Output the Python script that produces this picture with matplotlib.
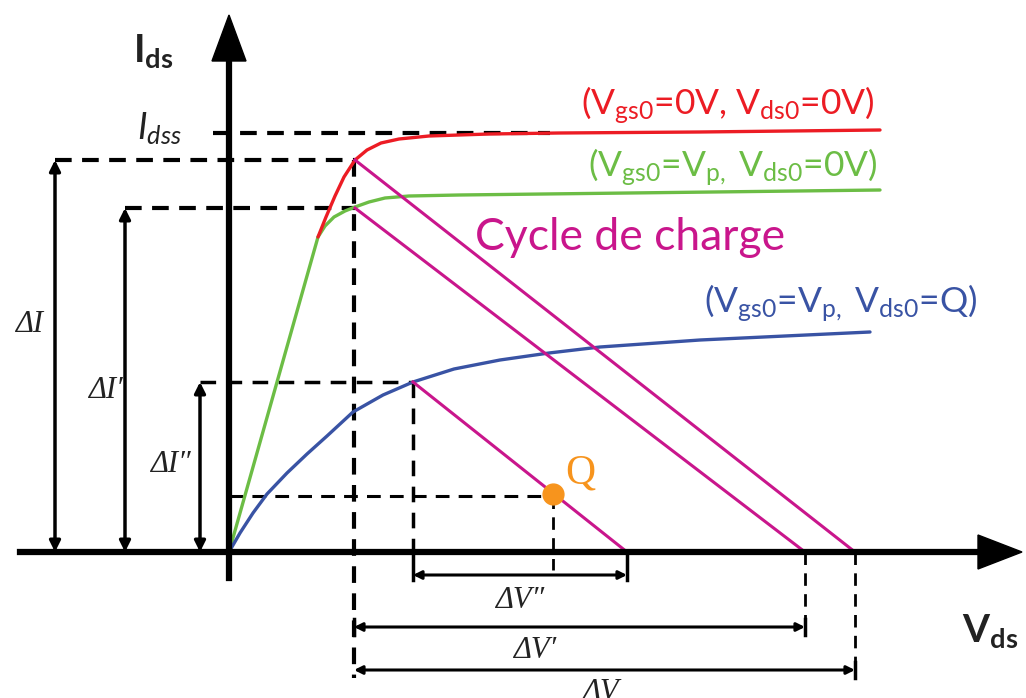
import matplotlib
matplotlib.use("Agg")
from matplotlib import pyplot as plt

# diagram units: origin where the two axes cross, 1 unit ~ 1 px
# output characteristics (Vds, Ids)
red_v = [89, 97, 106, 115, 126, 138, 152, 170, 200, 260, 330, 470, 651]
red_i = [315, 335, 356, 375, 392, 402, 409, 413, 416, 418, 419, 420, 422]
green_v = [0, 89, 96, 105, 116, 126, 140, 156, 180, 230, 400, 651]
green_i = [0, 315, 326, 335, 341, 345, 350, 354, 356, 357, 359, 362]
blue_v = [0, 11, 24, 38, 58, 78, 98, 124, 154, 184, 225, 271, 320, 371, 471, 641]
blue_i = [0, 19, 39, 58, 79, 98, 116, 140, 157, 170, 183, 192, 199, 205, 212, 220]

# load lines: start point on the curve -> end on Vds axis
load_start_v = [126, 126, 184]
load_start_i = [392, 344, 170]
load_end_v = [626, 576, 398]

q_v, q_i = 324, 56
idss = 419

# delta arrows
dI_x = [-174, -104, -29]
dI_top = [392, 344, 170]
dI_labels = ["\u0394I", "\u0394I\u2032", "\u0394I\u2033"]
dV_y = [-23, -75, -118]
dV_start = [184, 125, 125]
dV_end = [398, 576, 626]
dV_labels = ["\u0394V\u2033", "\u0394V\u2032", "\u0394V"]

RED = "#ec1c24"
GREEN = "#6cbd45"
BLUE = "#3953a4"
MAG = "#c9168c"
ORANGE = "#f7941d"

plt.rcParams['mathtext.fontset'] = 'custom'
plt.rcParams['mathtext.rm'] = 'Lato'
plt.rcParams['mathtext.it'] = 'Lato:italic'
plt.rcParams['mathtext.bf'] = 'Lato:bold'

fig = plt.figure(figsize=(10.26, 6.98), dpi=100)
ax = fig.add_axes([0, 0, 1, 1])
ax.set_xlim(-229, 797)
ax.set_ylim(-146, 552)
ax.axis('off')

dash = (0, (4, 2.5))
thin_dash = (0, (4.5, 3))
serif = ['Liberation Serif', 'DejaVu Serif']

# dashed guide lines
ax.plot([-16, 321], [idss, idss], color='k', lw=3, ls=dash)
ax.plot([dI_x[0], load_start_v[0]], [dI_top[0], dI_top[0]], color='k', lw=3, ls=dash)
ax.plot([dI_x[1], load_start_v[1]], [dI_top[1], dI_top[1]], color='k', lw=3, ls=dash)
ax.plot([dI_x[2], load_start_v[2]], [dI_top[2], dI_top[2]], color='k', lw=2.5, ls=thin_dash)
ax.plot([0, q_v], [q_i, q_i], color='k', lw=2.2, ls=thin_dash)
ax.plot([125, 125], [392, -126], color='k', lw=3, ls=dash)
ax.plot([184, 184], [170, 0], color='k', lw=2.5, ls=thin_dash)
ax.plot([q_v, q_v], [q_i, -18], color='k', lw=2, ls=thin_dash)
ax.plot([576, 576], [0, -80], color='k', lw=2, ls=thin_dash)
ax.plot([626, 626], [0, -126], color='k', lw=2, ls=thin_dash)
ax.plot([184, 184], [0, -28], color='k', lw=2.5)
ax.plot([398, 398], [0, -28], color='k', lw=2.5)

# curves
ax.plot(green_v, green_i, color=GREEN, lw=2.4, solid_capstyle='round')
ax.plot(red_v, red_i, color=RED, lw=2.4, solid_capstyle='round')
ax.plot(blue_v, blue_i, color=BLUE, lw=2.4, solid_capstyle='round')
for sv, si, ev in zip(load_start_v, load_start_i, load_end_v):
    ax.plot([sv, ev], [si, 0], color=MAG, lw=2.2)

# axes with arrows
ax.plot([-209, 760], [0, 0], color='k', lw=4.5)
ax.plot([0, 0], [-26, 500], color='k', lw=4.5)
ax.arrow(740, 0, 53, 0, width=0.1, head_width=34, head_length=44,
         length_includes_head=True, color='k')
ax.arrow(0, 480, 0, 57, width=0.1, head_width=34, head_length=46,
         length_includes_head=True, color='k')

# Q point
ax.plot(q_v, q_i + 2, 'o', color=ORANGE, ms=15, zorder=5)
ax.text(336, 68, "Q", color=ORANGE, fontsize=30, family='Liberation Serif')

# delta arrows
for x, top in zip(dI_x, dI_top):
    ax.annotate("", xy=(x, 0), xytext=(x, top),
                arrowprops=dict(arrowstyle='<|-|>', color='k', lw=2.5,
                                mutation_scale=16, shrinkA=0, shrinkB=0))
ax.text(-200, 227, dI_labels[0], fontsize=22, style='italic',
        family=serif, ha='center', va='center', color='#222')
ax.text(-124, 162, dI_labels[1], fontsize=22, style='italic',
        family=serif, ha='center', va='center', color='#222')
ax.text(-59, 87, dI_labels[2], fontsize=22, style='italic',
        family=serif, ha='center', va='center', color='#222')

for y, s, e in zip(dV_y, dV_start, dV_end):
    ax.annotate("", xy=(e, y), xytext=(s, y),
                arrowprops=dict(arrowstyle='<|-|>', color='k', lw=2.2,
                                mutation_scale=12, shrinkA=0, shrinkB=0))
ax.plot([125, 125], [dV_y[1] - 8, dV_y[1] + 8], color='k', lw=2.5)
ax.plot([576, 576], [dV_y[1] - 8, dV_y[1] + 8], color='k', lw=2.5)
ax.plot([626, 626], [dV_y[2] - 8, dV_y[2] + 8], color='k', lw=2.5)
ax.text(291, -48, dV_labels[0], fontsize=22, style='italic',
        family=serif, ha='center', va='center', color='#222')
ax.text(306, -98, dV_labels[1], fontsize=22, style='italic',
        family=serif, ha='center', va='center', color='#222')
ax.text(371, -126, dV_labels[2], fontsize=22, style='italic',
        family=serif, ha='center', va='top', color='#222')

# axis labels
ax.text(-96, 490, r'$\mathbf{I}_{\mathbf{ds}}$', fontsize=28, color='#222')
ax.text(733, -90, r'$\mathbf{V}_{\mathbf{ds}}$', fontsize=28, color='#222')
ax.text(-92, 413, r'$\mathit{I}_{\mathit{dss}}$', fontsize=26, color='#222')

# curve labels
ax.text(646, 437, r'(V$_{\mathrm{gs0}}$=0V, V$_{\mathrm{ds0}}$=0V)', color=RED,
        fontsize=25.5, family='Lato', ha='right')
ax.text(649, 375, r'(V$_{\mathrm{gs0}}$=V$_{\mathrm{p,}}$ V$_{\mathrm{ds0}}$=0V)', color=GREEN,
        fontsize=25.5, family='Lato', ha='right')
ax.text(749, 239, r'(V$_{\mathrm{gs0}}$=V$_{\mathrm{p,}}$ V$_{\mathrm{ds0}}$=Q)', color=BLUE,
        fontsize=25.5, family='Lato', ha='right')
ax.text(246, 302, "Cycle de charge", color=MAG, fontsize=32, family='Lato')

fig.savefig("out.png", dpi=100)
